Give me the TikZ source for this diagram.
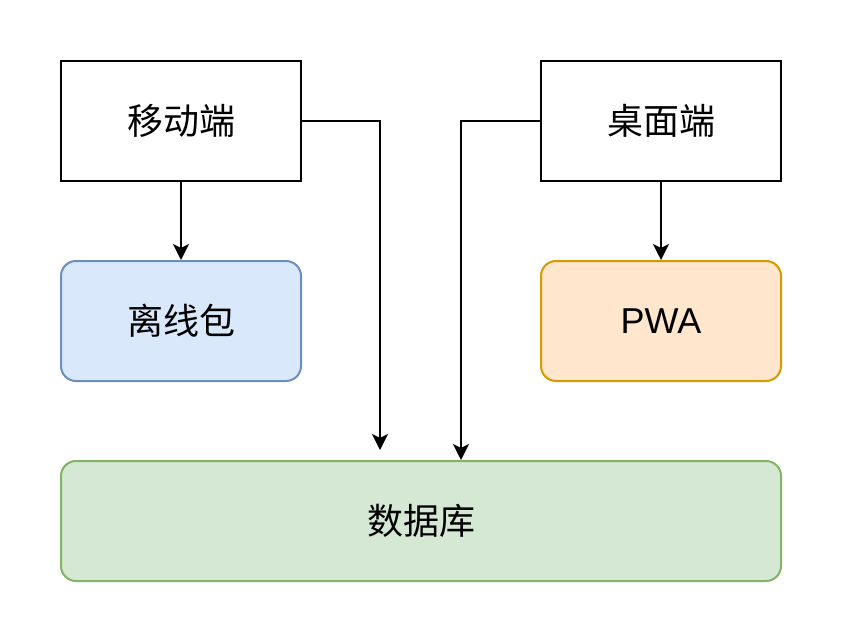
\documentclass[tikz,border=0pt]{standalone}
\usepackage{fontspec}
\setmainfont{Liberation Sans}
\newfontfamily\cjk{Noto Sans CJK SC}
\usetikzlibrary{arrows.meta, positioning}
\definecolor{bluefill}{HTML}{DAE8FC}
\definecolor{blueline}{HTML}{6C8EBF}
\definecolor{orangefill}{HTML}{FFE6CC}
\definecolor{orangeline}{HTML}{D79B00}
\definecolor{greenfill}{HTML}{D5E8D4}
\definecolor{greenline}{HTML}{82B366}
\tikzset{
  block/.style = {shape=rectangle, draw, line width=2pt, align=center,
                  minimum width=240pt, minimum height=120pt,
                  font=\fontsize{36}{43}\selectfont},
  client/.style = {block, fill=white},
  store/.style  = {block, rounded corners=15pt},
  offline/.style = {store, fill=bluefill, draw=blueline},
  pwa/.style     = {store, fill=orangefill, draw=orangeline},
  db/.style      = {store, fill=greenfill, draw=greenline, minimum width=720pt},
  link/.style    = {draw, line width=2pt, -{Stealth[length=16pt, width=16pt, inset=4pt]}}
}
\begin{document}
\begin{tikzpicture}[x=1pt, y=-1pt]
  \useasboundingbox (0,0) rectangle (842,642);

  \node[client] (mobile)  at (181,121) {\cjk 移动端};
  \node[client] (desktop) at (661,121) {\cjk 桌面端};
  \node[offline] (pkg)    at (181,321) {\cjk 离线包};
  \node[pwa] (web)        at (661,321) {PWA};
  \node[db] (database)    at (421,521) {\cjk 数据库};

  \coordinate (dbleft)  at ([xshift=-41pt, yshift=10pt]database.north);
  \coordinate (dbright) at ([xshift=40pt]database.north);

  \draw[link] (mobile.south) -- (pkg.north);
  \draw[link] (desktop.south) -- (web.north);
  \draw[link] (mobile.east) -| (dbleft);
  \draw[link] (desktop.west) -| (dbright);
\end{tikzpicture}
\end{document}
